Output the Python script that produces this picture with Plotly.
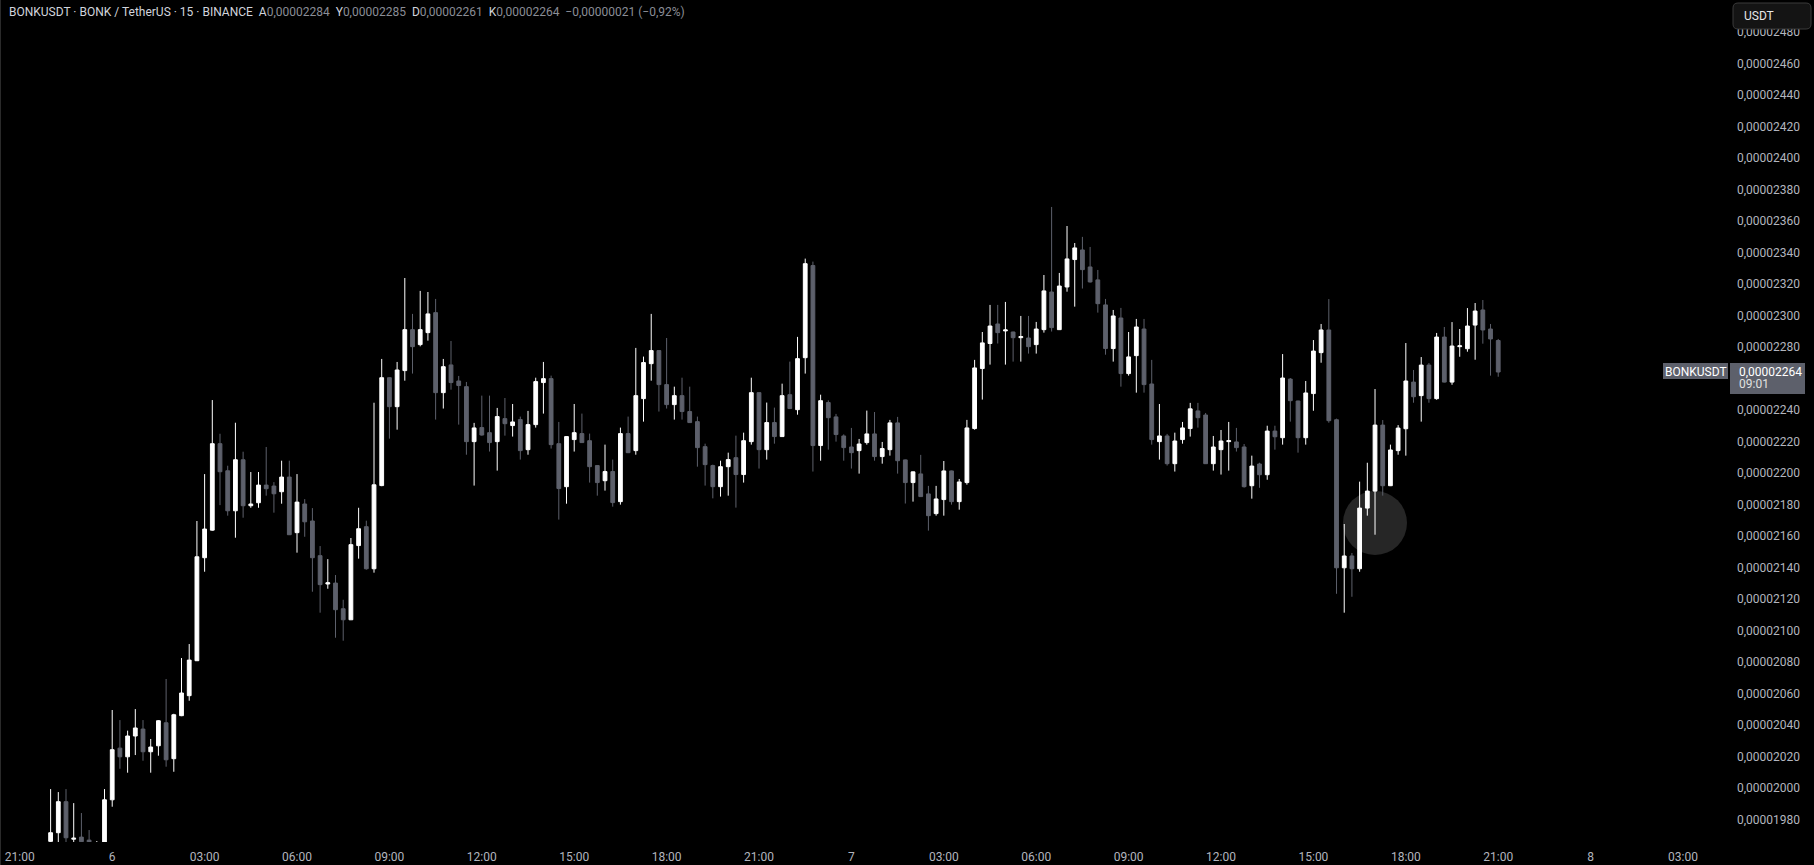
import pandas as pd
import plotly.graph_objects as go

# BONKUSDT 15m candles, prices in units of 1e-8 USDT
start = "2025-03-05 22:00"

open_e8 = [
    1966.0, 1971.5, 1991.2, 1967.4, 1968.7, 1966.8, 1960.0, 1963.0, 1992.4, 2025.2,
    2019.7, 2032.9, 2037.3, 2022.9, 2026.7, 2041.3, 2018.5, 2045.8, 2058.5, 2080.7,
    2146.1, 2163.6, 2218.5, 2201.3, 2175.9, 2208.3, 2179.1, 2181.0, 2192.2, 2191.6,
    2188.0, 2197.3, 2162.0, 2180.2, 2169.4, 2147.4, 2129.4, 2130.0, 2113.7, 2106.7,
    2153.8, 2165.8, 2139.1, 2191.9, 2260.4, 2242.0, 2264.9, 2290.9, 2281.4, 2289.0,
    2301.7, 2250.9, 2268.5, 2258.3, 2254.7, 2219.8, 2228.7, 2225.5, 2219.8, 2234.4,
    2230.0, 2233.8, 2214.7, 2230.6, 2257.3, 2259.8, 2218.5, 2191.2, 2221.1, 2224.9,
    2220.4, 2204.6, 2195.0, 2200.8, 2181.7, 2224.9, 2214.1, 2247.1, 2269.3, 2277.6,
    2256.0, 2243.3, 2249.0, 2238.9, 2232.5, 2216.6, 2204.6, 2191.2, 2203.9, 2209.6,
    2198.9, 2219.8, 2250.9, 2214.7, 2231.9, 2223.0, 2249.6, 2240.1, 2273.1, 2331.6,
    2217.3, 2244.6, 2235.5, 2223.4, 2216.4, 2214.1, 2219.2, 2224.7, 2210.3, 2214.7,
    2231.7, 2208.2, 2193.8, 2199.3, 2186.6, 2174.1, 2183.0, 2201.2, 2181.7, 2193.8,
    2228.1, 2266.2, 2282.1, 2294.5, 2290.1, 2289.4, 2285.8, 2285.6, 2281.4, 2290.9,
    2314.8, 2290.9, 2318.0, 2335.4, 2341.5, 2330.7, 2322.5, 2306.6, 2278.9, 2298.3,
    2263.0, 2274.4, 2291.3, 2256.4, 2219.8, 2223.4, 2205.8, 2221.1, 2228.1, 2239.3,
    2236.7, 2205.8, 2214.7, 2219.8, 2219.6, 2216.4, 2191.8, 2205.6, 2198.8, 2226.5,
    2222.3, 2259.5, 2245.6, 2222.3, 2250.3, 2276.3, 2290.7, 2233.7, 2139.7, 2147.2,
    2139.1, 2177.6, 2188.4, 2230.3, 2191.8, 2214.1, 2228.0, 2257.6, 2249.0, 2268.4,
    2247.1, 2286.2, 2257.6, 2280.1, 2278.8, 2293.8, 2303.4, 2291.3, 2284.0,
]
high_e8 = [
    1999.2, 1997.3, 1999.2, 1990.3, 1984.0, 1973.2, 1966.2, 1999.2, 2049.4, 2043.0,
    2036.3, 2050.0, 2043.0, 2031.0, 2043.0, 2069.1, 2047.0, 2082.4, 2091.3, 2169.4,
    2199.2, 2246.2, 2224.8, 2204.5, 2231.8, 2213.4, 2200.5, 2200.5, 2216.4, 2194.1,
    2207.7, 2207.7, 2199.2, 2183.3, 2177.6, 2153.5, 2145.2, 2135.1, 2119.4, 2158.6,
    2177.8, 2169.6, 2244.5, 2272.3, 2260.6, 2270.4, 2323.7, 2300.9, 2315.5, 2314.8,
    2310.4, 2272.3, 2283.7, 2261.5, 2257.7, 2231.7, 2249.0, 2249.0, 2241.2, 2247.5,
    2243.7, 2235.7, 2239.3, 2260.4, 2270.4, 2261.7, 2232.3, 2223.2, 2243.7, 2237.6,
    2224.9, 2204.8, 2217.9, 2208.4, 2228.7, 2235.7, 2279.3, 2273.8, 2300.9, 2277.8,
    2285.6, 2254.7, 2260.4, 2254.7, 2235.7, 2218.5, 2205.2, 2207.7, 2212.8, 2223.6,
    2225.5, 2260.4, 2251.1, 2244.6, 2241.4, 2256.6, 2270.6, 2286.3, 2336.0, 2334.1,
    2249.6, 2246.0, 2237.4, 2224.4, 2228.5, 2221.5, 2239.5, 2238.6, 2219.6, 2233.6,
    2235.5, 2208.4, 2200.8, 2211.4, 2191.7, 2191.7, 2207.5, 2201.4, 2196.1, 2233.6,
    2271.7, 2289.4, 2306.6, 2306.6, 2308.5, 2289.6, 2299.6, 2299.6, 2295.8, 2325.6,
    2368.8, 2326.9, 2356.7, 2345.9, 2349.8, 2343.4, 2328.8, 2310.4, 2303.4, 2304.7,
    2289.4, 2297.7, 2297.7, 2271.7, 2243.7, 2224.7, 2225.5, 2232.3, 2244.4, 2244.4,
    2238.0, 2223.4, 2227.2, 2232.3, 2228.5, 2218.3, 2210.9, 2206.4, 2229.9, 2229.9,
    2275.4, 2260.2, 2245.8, 2258.3, 2284.3, 2294.5, 2310.3, 2234.4, 2167.5, 2149.1,
    2194.4, 2206.4, 2253.2, 2233.5, 2217.9, 2230.3, 2282.4, 2265.3, 2273.5, 2269.7,
    2288.8, 2292.6, 2295.7, 2291.3, 2304.6, 2307.8, 2309.7, 2294.5, 2285.0,
]
low_e8 = [
    1962.0, 1964.0, 1964.0, 1964.0, 1962.0, 1960.0, 1957.0, 1960.0, 1988.0, 2012.1,
    2009.6, 2020.8, 2017.2, 2009.6, 2020.4, 2013.4, 2010.2, 2045.5, 2055.3, 2080.5,
    2137.2, 2163.2, 2179.5, 2172.8, 2158.8, 2171.5, 2177.8, 2177.8, 2185.5, 2174.7,
    2180.4, 2160.5, 2149.3, 2159.4, 2124.5, 2111.2, 2126.4, 2095.3, 2093.4, 2106.5,
    2145.5, 2138.5, 2136.6, 2191.5, 2221.7, 2227.4, 2258.5, 2263.0, 2280.3, 2283.9,
    2233.8, 2240.8, 2252.8, 2230.6, 2211.5, 2191.9, 2223.6, 2213.5, 2201.4, 2223.6,
    2223.0, 2208.4, 2211.5, 2228.7, 2237.6, 2215.4, 2170.3, 2180.4, 2213.5, 2219.0,
    2193.8, 2185.5, 2188.7, 2178.5, 2179.8, 2212.5, 2211.5, 2232.5, 2258.5, 2238.9,
    2240.8, 2233.8, 2233.8, 2231.7, 2203.9, 2191.9, 2183.8, 2184.9, 2185.5, 2177.9,
    2193.8, 2217.9, 2202.7, 2208.4, 2218.5, 2222.8, 2240.6, 2236.9, 2263.0, 2200.8,
    2207.7, 2214.7, 2219.8, 2207.7, 2202.7, 2199.5, 2217.9, 2207.7, 2205.8, 2210.9,
    2199.5, 2180.5, 2181.7, 2184.7, 2163.3, 2172.8, 2172.8, 2179.8, 2176.6, 2192.5,
    2227.4, 2246.5, 2268.7, 2282.1, 2268.7, 2270.6, 2270.6, 2275.7, 2275.7, 2289.0,
    2289.7, 2290.7, 2315.0, 2305.5, 2317.0, 2320.8, 2301.7, 2275.0, 2270.6, 2254.7,
    2261.7, 2250.9, 2250.9, 2217.9, 2208.4, 2204.6, 2200.8, 2218.5, 2223.0, 2228.7,
    2205.6, 2201.4, 2198.9, 2201.4, 2213.5, 2190.6, 2183.6, 2190.5, 2195.6, 2214.7,
    2217.9, 2232.5, 2212.8, 2217.9, 2239.4, 2269.9, 2231.8, 2123.2, 2111.2, 2121.3,
    2137.2, 2172.8, 2160.7, 2185.5, 2191.6, 2211.5, 2210.9, 2244.5, 2232.5, 2244.5,
    2246.4, 2257.4, 2255.9, 2273.7, 2276.9, 2271.8, 2282.0, 2261.7, 2261.0,
]
close_e8 = [
    1971.5, 1991.2, 1968.3, 1968.0, 1965.8, 1964.0, 1963.0, 1992.4, 2024.2, 2019.7,
    2032.9, 2038.0, 2022.9, 2025.9, 2042.6, 2017.8, 2046.4, 2060.2, 2081.1, 2146.7,
    2164.3, 2218.5, 2200.7, 2175.9, 2208.3, 2179.1, 2180.2, 2192.2, 2189.9, 2186.7,
    2197.3, 2160.7, 2181.4, 2168.9, 2146.1, 2129.0, 2130.2, 2113.1, 2106.7, 2154.4,
    2164.5, 2139.1, 2192.4, 2260.4, 2242.0, 2265.3, 2290.9, 2280.1, 2290.9, 2300.9,
    2250.9, 2267.4, 2257.3, 2255.4, 2219.8, 2228.5, 2224.0, 2219.2, 2235.7, 2231.2,
    2232.3, 2214.1, 2230.6, 2257.9, 2259.8, 2217.9, 2190.0, 2223.0, 2225.5, 2219.2,
    2203.9, 2193.8, 2200.8, 2181.1, 2224.9, 2212.8, 2249.0, 2270.0, 2277.6, 2256.0,
    2243.3, 2249.0, 2238.9, 2231.9, 2216.0, 2205.2, 2191.2, 2203.9, 2208.4, 2198.9,
    2220.4, 2250.9, 2214.7, 2231.9, 2223.0, 2249.0, 2240.8, 2272.5, 2332.8, 2217.3,
    2245.8, 2235.0, 2224.3, 2216.0, 2212.8, 2218.3, 2224.7, 2210.3, 2215.4, 2231.7,
    2207.7, 2193.8, 2200.6, 2184.9, 2172.8, 2183.4, 2201.2, 2181.7, 2194.2, 2228.5,
    2266.6, 2282.5, 2293.2, 2289.0, 2290.7, 2285.8, 2286.5, 2280.1, 2291.3, 2315.5,
    2292.2, 2318.6, 2335.8, 2342.8, 2329.0, 2321.2, 2307.4, 2278.9, 2299.6, 2263.0,
    2273.6, 2292.6, 2256.0, 2221.1, 2223.4, 2205.8, 2220.2, 2228.5, 2240.6, 2235.0,
    2205.8, 2216.4, 2220.2, 2220.4, 2216.0, 2191.2, 2204.3, 2198.8, 2226.5, 2222.9,
    2260.2, 2245.8, 2222.3, 2250.7, 2277.3, 2290.7, 2233.1, 2139.7, 2147.2, 2139.1,
    2177.6, 2188.4, 2230.3, 2191.8, 2214.5, 2228.4, 2258.3, 2248.3, 2268.4, 2247.1,
    2286.2, 2257.6, 2280.5, 2280.6, 2293.2, 2302.7, 2290.7, 2285.0, 2264.0,
]

tick_times = pd.date_range("2025-03-05 21:00", "2025-03-08 03:00", freq="3h")
tick_text = ["21:00", "6", "03:00", "06:00", "09:00", "12:00", "15:00", "18:00",
             "21:00", "7", "03:00", "06:00", "09:00", "12:00", "15:00", "18:00",
             "21:00", "8", "03:00"]
# 2260 sits under the last-price label, so it is not shown
price_ticks_e8 = [1980, 2000, 2020, 2040, 2060, 2080, 2100, 2120, 2140, 2160, 2180,
                  2200, 2220, 2240, 2280, 2300, 2320, 2340, 2360, 2380, 2400, 2420,
                  2440, 2460, 2480]

E8 = 1e-8
times = pd.date_range(start, periods=len(open_e8), freq="15min")

UP = "#ffffff"
DOWN = "#5d606b"
TEXT = "#b2b5be"
FONT = "Roboto"

# plot area in pixels (price scale on the right, time scale below)
W, H = 1814, 865
PW, PH = 1730, 842


def px(x):
    return x / PW


def py(y):
    return 1 - y / PH


fig = go.Figure()
fig.add_trace(go.Candlestick(
    x=times,
    open=[v * E8 for v in open_e8],
    high=[v * E8 for v in high_e8],
    low=[v * E8 for v in low_e8],
    close=[v * E8 for v in close_e8],
    increasing=dict(line=dict(color=UP, width=1), fillcolor=UP),
    decreasing=dict(line=dict(color=DOWN, width=1), fillcolor=DOWN),
    whiskerwidth=0,
    hoverinfo="skip",
))

# header legend
o, h, l, c = open_e8[-1], high_e8[-1], low_e8[-1], close_e8[-1]
chg = c - close_e8[-2]
pct = chg / close_e8[-2] * 100


def fmt(v):
    return f"{v * E8:.8f}".replace(".", ",").replace("-", "\u2212")


def val(v):
    return f"<span style='color:#8a8d96'>{v}</span>"


sp = "\u00a0\u00a0"
pct_txt = f"({pct:.2f}%)".replace(".", ",").replace("-", "\u2212")
header = ("BONKUSDT · BONK / TetherUS · 15 · BINANCE" + sp
          + "A" + val(fmt(o)) + sp + "Y" + val(fmt(h)) + sp
          + "D" + val(fmt(l)) + sp + "K" + val(fmt(c)) + sp
          + val(fmt(chg) + " " + pct_txt))

annotations = [
    dict(x=px(7), y=py(12), xref="paper", yref="paper", text=header, showarrow=False,
         xanchor="left", yanchor="middle", font=dict(family=FONT, size=12, color="#d1d4dc")),
    dict(x=px(1742), y=py(16), xref="paper", yref="paper", text="USDT", showarrow=False,
         xanchor="left", yanchor="middle", font=dict(family=FONT, size=12, color="#e6e6e6")),
    dict(x=px(1695.5), y=c * E8, xref="paper", yref="y", text="BONKUSDT", showarrow=False,
         xanchor="center", yanchor="middle", font=dict(family=FONT, size=12, color="#ffffff")),
    dict(x=px(1737), y=c * E8, xref="paper", yref="y", text=fmt(c), showarrow=False,
         xanchor="left", yanchor="middle", font=dict(family=FONT, size=12, color="#ffffff")),
    dict(x=px(1737), y=py(384), xref="paper", yref="paper", text="09:01", showarrow=False,
         xanchor="left", yanchor="middle", font=dict(family=FONT, size=12, color="#e0e0e0")),
]

# rounded USDT button
x0, x1, y0, y1, r = 1733, 1811, 3, 29, 5
btn = (f"M {px(x0 + r)} {py(y0)} L {px(x1 - r)} {py(y0)} Q {px(x1)} {py(y0)} {px(x1)} {py(y0 + r)} "
       f"L {px(x1)} {py(y1 - r)} Q {px(x1)} {py(y1)} {px(x1 - r)} {py(y1)} "
       f"L {px(x0 + r)} {py(y1)} Q {px(x0)} {py(y1)} {px(x0)} {py(y1 - r)} "
       f"L {px(x0)} {py(y0 + r)} Q {px(x0)} {py(y0)} {px(x0 + r)} {py(y0)} Z")

shapes = [
    # cursor highlight
    dict(type="circle", xref="paper", yref="paper", layer="below",
         x0=px(1343), x1=px(1407), y0=py(555), y1=py(491),
         fillcolor="#262626", line=dict(width=0)),
    # left frame
    dict(type="line", xref="paper", yref="paper", x0=px(0.5), x1=px(0.5), y0=py(PH + 23), y1=1,
         line=dict(color="#2a2a2a", width=1)),
    dict(type="path", xref="paper", yref="paper", path=btn, layer="above",
         fillcolor="#141414", line=dict(color="#3a3a3a", width=1)),
    # last price labels
    dict(type="rect", xref="paper", yref="paper", layer="above",
         x0=px(1663), x1=px(1728), y0=py(379), y1=py(363),
         fillcolor=DOWN, line=dict(width=0)),
    dict(type="rect", xref="paper", yref="paper", layer="above",
         x0=px(1730), x1=px(1805), y0=py(394), y1=py(363),
         fillcolor=DOWN, line=dict(width=0)),
]

fig.update_layout(
    width=W, height=H,
    margin=dict(l=0, r=W - PW, t=0, b=H - PH, pad=0, autoexpand=False),
    paper_bgcolor="#000000", plot_bgcolor="#000000",
    separators=",.",
    showlegend=False,
    hovermode=False,
    annotations=annotations,
    shapes=shapes,
    xaxis=dict(
        type="date",
        range=["2025-03-05 20:21:25", "2025-03-08 04:31:30"],
        tickvals=list(tick_times), ticktext=tick_text,
        showgrid=False, zeroline=False, showline=False, ticks="",
        ticklabelstandoff=6,
        tickfont=dict(family=FONT, size=12, color=TEXT),
        rangeslider=dict(visible=False),
        fixedrange=True,
    ),
    yaxis=dict(
        side="right",
        range=[1965.6 * E8, 2500.2 * E8],
        tickvals=[v * E8 for v in price_ticks_e8],
        tickformat=".8f",
        showgrid=False, zeroline=False, showline=False, ticks="",
        ticklabelstandoff=6,
        tickfont=dict(family=FONT, size=12, color=TEXT),
        fixedrange=True,
    ),
)

fig.write_html("out.html", config={"displayModeBar": False},
               post_script="document.body.style.margin='0';document.body.style.overflow='hidden';")
